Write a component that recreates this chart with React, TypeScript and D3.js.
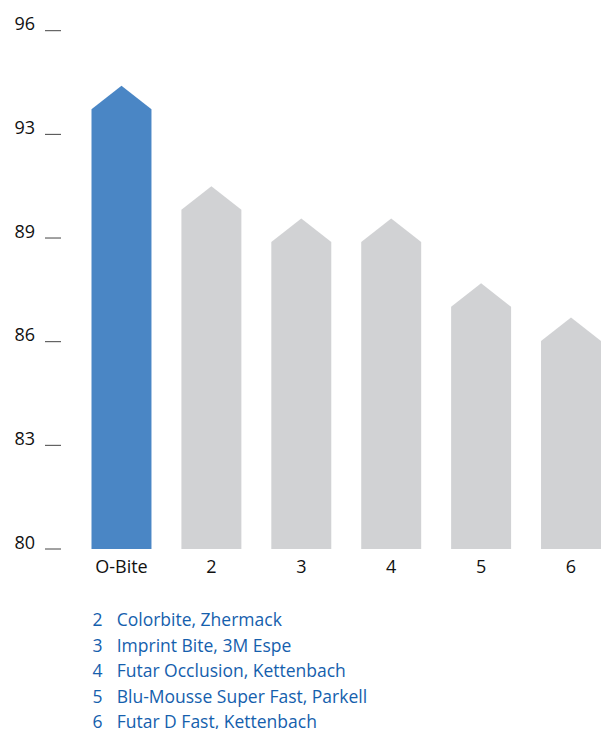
import React from "react";
import * as d3 from "d3";

const categories = ["O-Bite", "2", "3", "4", "5", "6"];
const values = [94.3, 91.2, 90.2, 90.2, 88.2, 87.15];
const tickValues = [80, 83.2, 86.4, 89.6, 92.8, 96];
const tickLabels = ["80", "83", "86", "89", "93", "96"];
const legendNumbers = ["2", "3", "4", "5", "6"];
const legendNames = [
  "Colorbite, Zhermack",
  "Imprint Bite, 3M Espe",
  "Futar Occlusion, Kettenbach",
  "Blu-Mousse Super Fast, Parkell",
  "Futar D Fast, Kettenbach",
];

const W = 602;
const H = 729;
const FONT = "'Open Sans', 'Noto Sans', sans-serif";

export default function App() {
  const y = d3.scaleLinear().domain([80, 96]).range([549, 30.7]);
  const x = d3
    .scaleBand<string>()
    .domain(categories)
    .range([91.5, 601])
    .paddingInner(0.333)
    .paddingOuter(0);
  const bw = x.bandwidth();
  const head = 23.5;

  const barPath = (c: string, v: number) => {
    const x0 = x(c)!;
    const x1 = x0 + bw;
    const top = y(v);
    const base = y(80);
    const p = d3.path();
    p.moveTo(x0, base);
    p.lineTo(x0, top + head);
    p.lineTo(x0 + bw / 2, top);
    p.lineTo(x1, top + head);
    p.lineTo(x1, base);
    p.closePath();
    return p.toString();
  };

  return (
    <svg
      width={W}
      height={H}
      style={{ position: "absolute", left: 0, top: 0, background: "#fff" }}
    >
      {tickValues.map((t, i) => (
        <g key={t}>
          <text
            x={35}
            y={y(t) - 0.5}
            textAnchor="end"
            fontFamily={FONT}
            fontSize={18}
            fill="#111"
          >
            {tickLabels[i]}
          </text>
          <line x1={45} x2={61} y1={y(t)} y2={y(t)} stroke="#444" strokeWidth={1} />
        </g>
      ))}
      {categories.map((c, i) => (
        <g key={c}>
          <path d={barPath(c, values[i])} fill={i === 0 ? "#4a86c5" : "#d1d2d4"} />
          <text
            x={x(c)! + bw / 2}
            y={573}
            textAnchor="middle"
            fontFamily={FONT}
            fontSize={18}
            fill="#111"
          >
            {c}
          </text>
        </g>
      ))}
      {legendNumbers.map((n, i) => (
        <g key={n} fontFamily={FONT} fontSize={17.5} fontWeight={500} fill="#1560ad">
          <text x={92.5} y={626 + i * 25.6}>
            {n}
          </text>
          <text x={116.7} y={626 + i * 25.6}>
            {legendNames[i]}
          </text>
        </g>
      ))}
    </svg>
  );
}
